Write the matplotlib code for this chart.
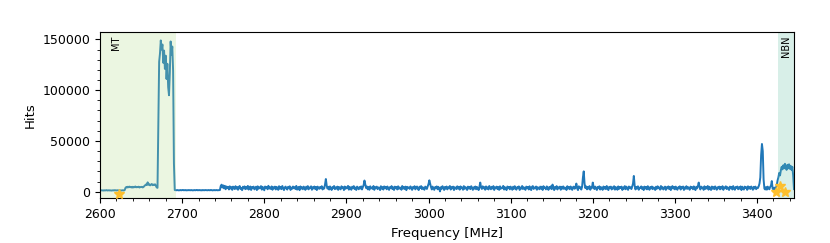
import numpy as np
import matplotlib
matplotlib.use("Agg")
import matplotlib.pyplot as plt
from matplotlib.ticker import AutoMinorLocator

# hits per 1 MHz channel, in thousands, starting at 2600 MHz
hits_low = [  # 2600-2669
    1.3, 1.2, 1.4, 1.3, 1.1, 1.4, 1.2, 1.3, 1.5, 1.2,
    1.3, 1.4, 1.2, 1.3, 1.1, 1.3, 1.4, 1.2, 1.5, 1.3,
    1.2, 1.4, 1.3, 1.2, 1.4, 1.3, 1.1, 1.4, 1.3, 1.2,
    1.5, 3.8, 4.6, 4.1, 4.9, 4.3, 5.0, 4.4, 4.7, 4.0,
    4.8, 4.2, 4.6, 5.1, 4.3, 4.7, 4.4, 4.9, 4.1, 4.6,
    4.5, 4.8, 4.2, 4.7, 5.6, 6.3, 7.1, 6.5, 9.2, 6.8,
    7.4, 6.2, 6.9, 7.6, 6.4, 7.0, 6.6, 7.3, 5.9, 4.2,
]
hits_peak = [  # 2670-2691
    3.8, 62, 128, 136, 149, 140, 145, 127, 139, 121,
    134, 111, 126, 103, 95, 117, 148, 135, 143, 119,
    28, 1.6,
]
hits_quiet = [  # 2692-2746
    1.5, 1.4, 1.6, 1.5, 1.3, 1.5, 1.6, 1.4, 1.5, 1.7,
    1.4, 1.5, 1.6, 1.3, 1.5, 1.4, 1.6, 1.5, 1.4, 1.6,
    1.5, 1.3, 1.5, 1.6, 1.4, 1.5, 1.7, 1.4, 1.5, 1.6,
    1.4, 1.5, 1.3, 1.6, 1.5, 1.4, 1.6, 1.5, 1.5, 1.4,
    1.6, 1.5, 1.4, 1.7, 1.5, 1.3, 1.5, 1.6, 1.4, 1.5,
    1.6, 1.4, 1.5, 1.5, 1.6,
]
hits_band = [  # 2747-3400
    5.6, 6.9, 4.1, 6.2, 3.3, 5.8, 2.4, 5.1, 3.6, 4.8,
    2.2, 5.3, 3.1, 4.6, 1.8, 5.0, 3.9, 2.6, 5.4, 3.0,
    4.7, 1.9, 4.2, 5.6, 2.8, 3.7, 1.5, 4.9, 3.3, 5.2,
    2.5, 4.4, 3.0, 5.7, 2.1, 4.0, 5.1, 1.7, 4.5, 3.4,
    5.0, 2.3, 3.8, 4.9, 1.6, 5.3, 2.9, 4.3, 3.5, 5.5,
    2.0, 4.8, 3.2, 1.4, 5.1, 3.6, 4.6, 2.4, 5.8, 3.1,
    4.1, 2.7, 5.2, 1.9, 4.4, 3.3, 5.0, 2.2, 4.7, 3.9,
    1.8, 5.4, 3.0, 4.6, 2.5, 5.6, 3.5, 1.6, 4.2, 5.0,
    3.2, 2.1, 4.8, 3.7, 5.3, 1.7, 4.0, 2.9, 5.1, 3.4,
    4.5, 2.6, 5.7, 2.0, 3.9, 4.7, 1.5, 5.2, 3.1, 4.3,
    2.4, 5.0, 3.6, 1.8, 4.9, 3.0, 5.5, 2.3, 4.1, 3.8,
    5.3, 1.9, 4.4, 3.2, 5.1, 2.7, 4.6, 1.6, 5.0, 3.5,
    2.8, 4.7, 3.3, 5.4, 2.2, 4.0, 3.1, 7.2, 12.5, 6.1,
    3.0, 4.8, 2.1, 5.2, 3.7, 1.7, 4.5, 3.4, 5.6, 2.5,
    4.2, 3.0, 5.0, 1.8, 4.6, 3.6, 2.3, 5.3, 3.9, 4.4,
    1.6, 5.1, 2.9, 4.3, 3.5, 5.7, 2.0, 4.8, 3.2, 1.9,
    4.9, 3.4, 5.5, 2.6, 4.1, 1.7, 5.0, 3.8, 2.4, 4.6,
    3.1, 5.2, 2.2, 4.5, 6.6, 11.0, 7.4, 3.6, 5.1, 2.3,
    4.7, 1.9, 5.3, 3.3, 4.0, 2.7, 5.6, 1.8, 4.4, 3.5,
    5.0, 2.5, 4.2, 3.9, 1.6, 5.4, 3.0, 4.6, 2.1, 5.2,
    3.6, 4.8, 2.4, 5.1, 3.2, 1.8, 4.5, 3.7, 5.5, 2.6,
    4.3, 1.7, 5.0, 3.4, 4.7, 2.2, 5.3, 2.9, 4.1, 3.8,
    1.9, 5.6, 3.1, 4.4, 2.6, 5.0, 1.5, 4.8, 3.5, 4.2,
    2.8, 5.2, 3.9, 1.8, 4.6, 3.3, 5.4, 2.3, 4.0, 5.1,
    3.0, 1.6, 4.9, 3.7, 5.5, 2.5, 4.3, 3.2, 1.9, 5.0,
    4.1, 2.7, 5.3, 7.5, 11.2, 8.0, 4.6, 2.2, 5.0, 3.4,
    1.8, 4.5, 3.6, 5.2, 2.4, 4.8, 3.1, 0.3, 4.4, 2.9,
    5.4, 3.5, 1.7, 4.7, 3.0, 5.1, 2.3, 4.2, 3.8, 5.6,
    2.1, 4.6, 3.3, 5.0, 1.6, 4.4, 3.7, 2.6, 5.3, 3.1,
    4.8, 2.0, 5.2, 3.4, 4.1, 1.9, 5.5, 2.8, 4.5, 3.6,
    1.7, 5.0, 3.2, 4.7, 2.5, 5.4, 3.9, 1.8, 4.3, 3.0,
    5.1, 2.4, 4.6, 3.5, 1.6, 4.9, 9.0, 4.0, 2.7, 5.3,
    3.3, 4.5, 1.9, 5.2, 3.0, 4.3, 2.2, 5.6, 3.7, 2.4,
    4.8, 3.1, 5.5, 1.7, 4.2, 3.6, 5.0, 2.5, 4.6, 1.8,
    5.3, 2.9, 4.0, 3.4, 5.7, 2.1, 4.4, 3.2, 1.6, 5.1,
    3.8, 4.7, 2.3, 5.0, 3.5, 1.9, 4.9, 2.8, 5.4, 3.3,
    2.0, 4.5, 3.7, 5.2, 1.7, 4.1, 3.0, 5.6, 2.6, 4.3,
    3.4, 1.8, 5.0, 3.9, 4.6, 2.2, 5.3, 3.1, 1.6, 4.8,
    5.5, 2.7, 4.2, 3.3, 5.1, 1.9, 4.4, 3.6, 2.4, 5.0,
    3.0, 4.9, 1.7, 5.4, 3.5, 4.0, 2.3, 5.2, 3.8, 1.8,
    4.6, 3.2, 5.3, 2.5, 7.0, 3.9, 1.6, 4.7, 3.1, 5.5,
    2.2, 4.3, 3.6, 5.0, 1.9, 4.8, 3.0, 5.2, 2.7, 4.1,
    3.5, 1.7, 5.4, 3.2, 4.5, 2.4, 5.1, 3.8, 1.8, 4.6,
    5.0, 2.9, 4.2, 8.0, 3.3, 1.6, 5.3, 3.7, 4.4, 2.1,
    4.8, 14.0, 20.0, 8.0, 3.5, 5.2, 2.3, 4.6, 3.0, 5.5,
    1.9, 4.1, 3.6, 9.0, 4.9, 2.6, 5.0, 3.2, 1.7, 4.7,
    3.4, 5.3, 2.1, 4.4, 3.9, 1.8, 5.1, 3.0, 4.6, 2.5,
    5.6, 3.3, 1.6, 4.8, 3.7, 5.0, 2.2, 4.3, 3.1, 5.4,
    2.0, 4.5, 3.5, 1.9, 5.2, 2.8, 4.7, 3.6, 5.0, 1.7,
    4.2, 3.0, 5.5, 2.4, 4.9, 3.3, 1.8, 5.1, 3.8, 4.4,
    2.6, 5.0, 8.0, 15.5, 6.0, 2.2, 4.6, 3.2, 5.3, 1.9,
    4.0, 3.5, 5.2, 2.7, 4.4, 1.6, 5.0, 3.1, 4.7, 2.3,
    5.4, 3.8, 1.9, 4.6, 3.2, 5.1, 2.5, 4.3, 3.6, 1.7,
    4.9, 2.9, 5.3, 3.4, 4.1, 2.0, 5.6, 3.0, 4.5, 2.2,
    3.7, 5.0, 1.8, 4.4, 3.3, 5.2, 2.6, 4.8, 1.6, 4.0,
    5.5, 3.1, 4.6, 2.3, 5.0, 3.6, 1.9, 4.3, 3.9, 5.3,
    2.1, 4.7, 3.4, 5.1, 1.7, 4.2, 3.0, 5.4, 2.8, 4.5,
    3.5, 1.9, 5.0, 3.8, 4.4, 2.4, 5.2, 3.1, 1.6, 4.9,
    3.3, 5.5, 9.0, 4.6, 2.2, 5.0, 3.6, 4.1, 1.8, 5.3,
    2.7, 4.3, 3.2, 5.6, 2.0, 4.8, 3.5, 1.7, 5.1, 3.0,
    4.6, 2.5, 5.2, 3.7, 1.9, 4.4, 3.3, 5.0, 2.3, 4.7,
    3.1, 5.4, 1.8, 4.1, 3.6, 5.3, 2.6, 4.5, 3.0, 1.7,
    5.0, 3.4, 4.7, 2.2, 5.5, 3.2, 1.9, 4.6, 3.9, 5.1,
    2.4, 4.3, 3.0, 5.2, 1.6, 4.9, 3.5, 2.1, 5.0, 3.7,
    4.4, 1.8, 5.3, 3.1, 4.6, 2.7, 5.1, 3.4, 1.9, 4.8,
    3.2, 5.0, 2.5, 4.1,
]
hits_top = [  # 3401-3445
    3.5, 5.2, 8.0, 14, 36, 47, 40, 12, 3.0, 2.2,
    4.5, 2.0, 5.0, 3.2, 2.4, 4.8, 6.0, 10.5, 3.0, 2.2,
    4.0, 2.8,
    3.5, 6.5, 11, 14, 18.5, 16, 21, 24.5, 22, 26,
    23, 27.5, 24, 21.5, 26.5, 23, 27, 22.5, 25.5, 21.5,
    24.5, 16, 2.5,
]

# bands
band_names = ["MT", "NBN"]
band_start = [2600, 3425]
band_end = [2692, 3445]
band_colors = ["#b2df8a", "#66c2a5"]

# markers
star_freq = [2623.5, 3423, 3427.5, 3433.5]
star_hits = [-2300, -300, 5300, -300]

hits = np.array(hits_low + hits_peak + hits_quiet + hits_band + hits_top) * 1000
freq = 2600 + np.arange(len(hits))

fig = plt.figure(figsize=(8.3, 2.43), dpi=100)
ax = fig.add_axes([0.1205, 0.184, 0.8361, 0.683])

ax.plot(freq, hits, color="#2077b8", lw=1.4, zorder=1)

for name, s, e, c in zip(band_names, band_start, band_end, band_colors):
    ax.axvspan(s, e, color=c, alpha=0.25, lw=0, zorder=2)
    ax.text((s + e) / 2 if name == "NBN" else s + 19, 154000, name, rotation=90,
            ha="center", va="top", fontsize=7, zorder=4)

ax.plot(star_freq, star_hits, ls="none", marker="*", color="#fdbf2d",
        markersize=7, zorder=3)

ax.set_xlim(2600, 3445)
ax.set_ylim(-6500, 157000)
ax.xaxis.set_minor_locator(AutoMinorLocator(5))
ax.yaxis.set_minor_locator(AutoMinorLocator(5))
ax.tick_params(labelsize=9)
ax.set_xlabel("Frequency [MHz]", fontsize=9.5)
ax.set_ylabel("Hits", fontsize=9.5)

fig.savefig("out.png", dpi=100)
